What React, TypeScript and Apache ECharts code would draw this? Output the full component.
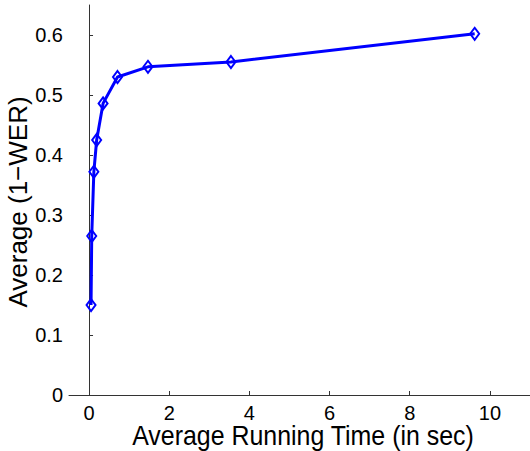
import React, { useEffect, useRef } from "react";
import * as echarts from "echarts";

const runningTime = [0.05, 0.067, 0.12, 0.19, 0.35, 0.71, 1.47, 3.54, 9.62];
const accuracy = [0.15, 0.265, 0.372, 0.425, 0.486, 0.53, 0.547, 0.555, 0.602];
const xTicks = [0, 2, 4, 6, 8, 10];
const yTicks = [0, 0.1, 0.2, 0.3, 0.4, 0.5, 0.6];
const xTitle = "Average Running Time (in sec)";
const yTitle = "Average (1\u2212WER)";

const FONT = "'Liberation Sans', Arial, Helvetica, sans-serif";

export default function App() {
  const ref = useRef<HTMLDivElement>(null);
  useEffect(() => {
    if (!ref.current) return;
    const chart = echarts.init(ref.current, undefined, { renderer: "svg" });
    const data = runningTime.map((x, i) => [x, accuracy[i]]);
    chart.setOption({
      animation: false,
      backgroundColor: "#ffffff",
      grid: { left: 69, top: 5, width: 464, height: 390, containLabel: false },
      xAxis: {
        type: "value",
        min: -0.5,
        max: 11,
        splitLine: { show: false },
        axisLine: { show: true, lineStyle: { color: "#333333", width: 1 } },
        axisTick: { show: true, inside: true, length: 4, customValues: xTicks, lineStyle: { color: "#333333" } },
        axisLabel: {
          customValues: xTicks,
          color: "#000000",
          fontFamily: FONT,
          fontSize: 20,
          margin: 8,
        },
      },
      yAxis: {
        type: "value",
        min: 0,
        max: 0.65,
        splitLine: { show: false },
        axisLine: { show: true, lineStyle: { color: "#333333", width: 1 } },
        axisTick: { show: true, inside: true, length: 4, customValues: yTicks, lineStyle: { color: "#333333" } },
        axisLabel: {
          customValues: yTicks,
          color: "#000000",
          fontFamily: FONT,
          fontSize: 20,
          margin: 6,
          formatter: (v: number) => String(Math.round(v * 10) / 10),
        },
      },
      series: [
        {
          type: "line",
          data,
          lineStyle: { color: "#0000ff", width: 3 },
          symbol: "diamond",
          symbolSize: [9, 12],
          itemStyle: { color: "transparent", borderColor: "#0000ff", borderWidth: 2 },
          showSymbol: true,
          clip: false,
        },
      ],
      graphic: [
        {
          type: "text",
          x: 303,
          y: 435,
          scaleX: 0.89,
          style: {
            text: xTitle,
            fill: "#000000",
            font: `28px ${FONT}`,
            textAlign: "center",
            textVerticalAlign: "middle",
          },
        },
        {
          type: "text",
          x: 18,
          y: 202,
          rotation: Math.PI / 2,
          style: {
            text: yTitle,
            fill: "#000000",
            font: `26px ${FONT}`,
            textAlign: "center",
            textVerticalAlign: "middle",
          },
        },
      ],
    });
    return () => chart.dispose();
  }, []);
  return (
    <div
      ref={ref}
      style={{ position: "absolute", left: 0, top: 0, width: 530, height: 451 }}
    />
  );
}
